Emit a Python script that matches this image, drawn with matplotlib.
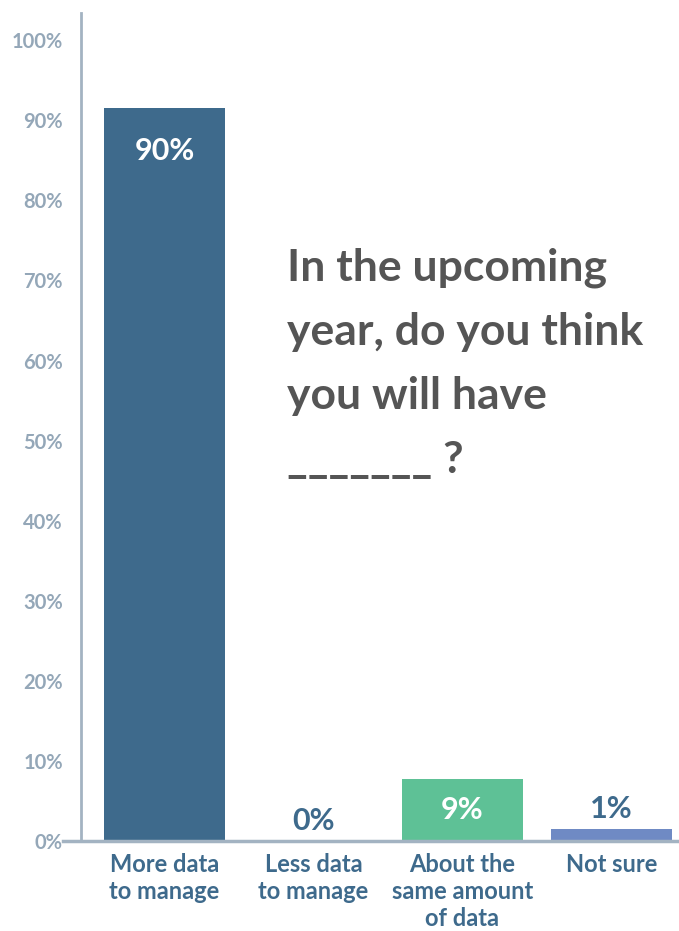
import matplotlib
matplotlib.use("Agg")
import matplotlib.pyplot as plt
from matplotlib.ticker import FuncFormatter
import numpy as np

plt.rcParams["font.family"] = ["Lato", "DejaVu Sans"]

categories = ["More data\nto manage", "Less data\nto manage", "About the\nsame amount\nof data", "Not sure"]
share_labels = ["90%", "0%", "9%", "1%"]
bar_heights = [91.5, 0, 7.8, 1.5]
bar_colors = ["#3e6a8c", "#3e6a8c", "#5ec196", "#6f8ac4"]
title_lines = ["In the upcoming", "year, do you think", "you will have", "_______ ?"]

dark_blue = "#3e6a8c"
tick_gray = "#94a7b8"
axis_gray = "#a3b3c2"

fig = plt.figure(figsize=(6.79, 9.31), dpi=100)
ax = fig.add_axes([81 / 679, 90 / 931, 598 / 679, 828 / 931])

x = np.arange(len(categories))
ax.bar(x, bar_heights, width=0.812, color=bar_colors, zorder=2)

for xi, h, lab in zip(x, bar_heights, share_labels):
    if h > 20:
        ax.text(xi, h - 5.3, lab, ha="center", va="center", color="white",
                fontsize=22, fontweight="bold")
    elif h > 5:
        ax.text(xi, h / 2, lab, ha="center", va="center", color="white",
                fontsize=22, fontweight="bold")
    else:
        ax.text(xi, h + 2.5, lab, ha="center", va="center", color=dark_blue,
                fontsize=22, fontweight="bold")

ax.set_xlim(-0.56, 3.453)
ax.set_ylim(0, 103.4)
ax.set_yticks(range(0, 101, 10))
ax.yaxis.set_major_formatter(FuncFormatter(lambda v, p: f"{int(v)}%"))
ax.set_xticks(x)
ax.set_xticklabels(categories, color=dark_blue, fontsize=17, fontweight="bold",
                   linespacing=1.2)
ax.tick_params(axis="y", length=0, pad=13, labelsize=14.5, labelcolor=tick_gray)
ax.tick_params(axis="x", length=0, pad=9)
for lbl in ax.get_yticklabels():
    lbl.set_fontweight("bold")

for side in ["top", "right", "bottom"]:
    ax.spines[side].set_visible(False)
ax.spines["left"].set_color(axis_gray)
ax.spines["left"].set_linewidth(2)
ax.axhline(0, xmin=-0.03, xmax=1, color=axis_gray, linewidth=2.5, clip_on=False, zorder=3)

for i, line in enumerate(title_lines):
    fig.text(287 / 679, 1 - (281 + 64 * i) / 931, line, ha="left", va="baseline",
             fontsize=32, fontweight="bold", color="#555555")

fig.savefig("out.png", dpi=100)
